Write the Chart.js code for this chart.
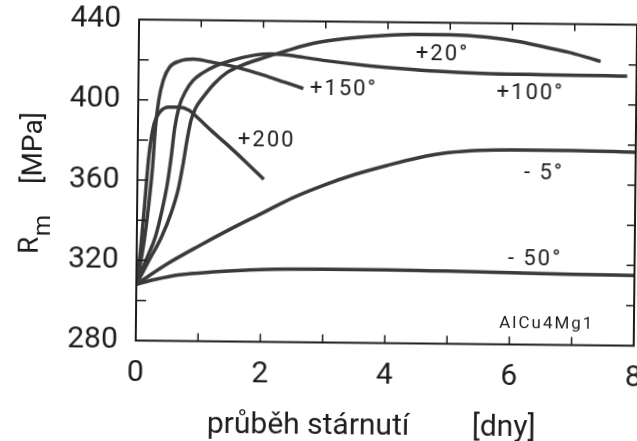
<!DOCTYPE html>
<html>
<head>
<meta charset="utf-8">
<script src="https://cdn.jsdelivr.net/npm/chart.js@4"></script>
<style>
  html, body { margin: 0; padding: 0; background: #fff; overflow: hidden; }
  #wrap { width: 637px; height: 441px; overflow: hidden; }
  /* the printed figure sits slightly skewed on the page */
  #agingChart { transform: rotate(0.6deg); transform-origin: 50% 50%; }
</style>
</head>
<body>
<div id="wrap"><canvas id="agingChart" width="650" height="441"></canvas></div>
<script>
// AlCu4Mg1 - tensile strength Rm vs. ageing time at different temperatures
const t20 = [0, 0.2, 0.4, 0.55, 0.66, 0.73, 0.79, 0.85, 0.92, 1.05, 1.22, 1.42, 1.68, 2.0, 2.4, 2.8, 3.3, 3.8, 4.4, 5.0, 5.6, 6.1, 6.5, 6.9, 7.2, 7.42];
const rm20 = [308, 320, 332, 344, 356, 368, 380, 390, 396, 402, 408.5, 414, 418, 421.5, 425.5, 429, 431.5, 433, 434, 434, 433, 431, 428.5, 426, 423.5, 421.5];

const t100 = [0, 0.15, 0.3, 0.4, 0.48, 0.54, 0.59, 0.66, 0.76, 0.88, 1.02, 1.22, 1.48, 1.8, 2.1, 2.4, 2.65, 3.0, 3.6, 4.2, 4.8, 5.5, 6.5, 7.5, 7.85];
const rm100 = [308, 320, 332, 345, 358, 372, 386, 397, 404.5, 410, 413.5, 417, 420, 422.5, 423.5, 423, 422, 420.5, 418.5, 417, 415.8, 415, 414.6, 414.4, 414.3];

const t150 = [0, 0.06, 0.12, 0.18, 0.24, 0.28, 0.33, 0.4, 0.5, 0.66, 0.88, 1.2, 1.6, 2.0, 2.35, 2.65];
const rm150 = [308, 318, 330, 346, 366, 386, 400, 410, 416.5, 419.5, 420.5, 419, 416.5, 413, 409.5, 406.5];

const t200 = [0, 0.04, 0.08, 0.13, 0.18, 0.25, 0.35, 0.5, 0.66, 0.82, 0.97, 1.18, 1.44, 1.74, 2.03];
const rm200 = [308, 318, 332, 352, 372, 387, 394, 396.5, 396.5, 395, 391, 385, 378, 369.5, 361];

const tm5 = [0, 0.5, 1, 1.5, 2, 2.5, 3, 3.5, 4, 4.5, 5, 5.5, 6, 7, 8];
const rmm5 = [308, 318.5, 327.5, 336, 344, 352, 358.5, 364, 368.5, 372.5, 375.3, 376.6, 377, 377, 376.5];

const tm50 = [0, 0.3, 0.7, 1.2, 2, 3, 4, 5, 6, 7, 8];
const rmm50 = [308, 310.5, 313, 314.5, 316, 316.5, 316.5, 316.2, 315.8, 315.3, 315];

const seriesNames = ['+20°', '+100°', '+150°', '+200', '- 5°', '- 50°'];
const seriesT = [t20, t100, t150, t200, tm5, tm50];
const seriesRm = [rm20, rm100, rm150, rm200, rmm5, rmm50];

// where each curve's name is written (days, MPa)
const nameAtT = [4.88, 6.3, 3.3, 2.07, 6.53, 6.4];
const nameAtRm = [424, 405, 406, 380, 365, 322.5];

const ink = '#1c1c1c';
const font = 'Roboto';

const toPoints = (xs, ys) => xs.map((x, i) => ({x, y: ys[i]}));

const paperPlugin = {
    id: 'paper',
    afterDraw(chart) {
        const {ctx, chartArea: a, scales: {x, y}} = chart;
        ctx.save();
        ctx.strokeStyle = ink;
        ctx.lineWidth = 2;
        ctx.strokeRect(a.left, a.top, a.right - a.left, a.bottom - a.top);

        // short inward tick marks on all four sides
        ctx.beginPath();
        x.ticks.forEach(t => {
            if (t.value <= x.min || t.value >= x.max) return;
            const px = x.getPixelForValue(t.value);
            ctx.moveTo(px, a.bottom); ctx.lineTo(px, a.bottom - 8);
            ctx.moveTo(px, a.top); ctx.lineTo(px, a.top + 7);
        });
        y.ticks.forEach(t => {
            if (t.value <= y.min || t.value >= y.max) return;
            const py = y.getPixelForValue(t.value);
            ctx.moveTo(a.left, py); ctx.lineTo(a.left + 10, py);
            ctx.moveTo(a.right, py); ctx.lineTo(a.right - 8, py);
        });
        ctx.lineWidth = 1.5;
        ctx.stroke();

        // curve names
        ctx.fillStyle = ink;
        ctx.textAlign = 'center';
        ctx.textBaseline = 'middle';
        ctx.font = `22px ${font}`;
        ctx.letterSpacing = '2px';
        seriesNames.forEach((name, i) => {
            ctx.fillText(name, x.getPixelForValue(nameAtT[i]), y.getPixelForValue(nameAtRm[i]));
        });
        ctx.font = `17px ${font}`;
        ctx.fillText('AlCu4Mg1', x.getPixelForValue(6.6), y.getPixelForValue(290.5));

        // x axis title
        ctx.font = `30px ${font}`;
        ctx.letterSpacing = '0px';
        ctx.textAlign = 'left';
        ctx.textBaseline = 'alphabetic';
        ctx.fillText('průběh stárnutí', a.left + 72, chart.height - 7);
        ctx.fillText('[dny]', a.left + 337, chart.height - 7);

        // y axis title, rotated, R with subscript m
        ctx.translate(30, (a.top + a.bottom) / 2);
        ctx.rotate(-Math.PI / 2);
        ctx.font = `28px ${font}`;
        ctx.fillText('R', -75, 8);
        ctx.font = `24px ${font}`;
        ctx.fillText('m', -57, 20);
        ctx.font = `28px ${font}`;
        ctx.fillText('[MPa]', -5, 11);
        ctx.restore();
    }
};

const noPad = s => { s.paddingLeft = 0; s.paddingRight = 0; s.paddingTop = 0; s.paddingBottom = 0; };

new Chart(document.getElementById('agingChart'), {
    type: 'line',
    data: {
        datasets: seriesNames.map((name, i) => ({
            label: name,
            data: toPoints(seriesT[i], seriesRm[i]),
            borderColor: '#3a3a3a',
            borderWidth: 3.5,
            pointRadius: 0,
            cubicInterpolationMode: 'monotone',
            fill: false
        }))
    },
    options: {
        responsive: false,
        animation: false,
        devicePixelRatio: 1,
        layout: {padding: {top: 21.5, right: 15, bottom: 0, left: 0}},
        plugins: {legend: {display: false}, tooltip: {enabled: false}},
        scales: {
            x: {
                type: 'linear',
                min: 0,
                max: 8,
                grid: {display: false, drawTicks: false},
                border: {display: false},
                ticks: {
                    stepSize: 1,
                    autoSkip: false,
                    maxRotation: 0,
                    padding: 15,
                    color: ink,
                    font: {family: font, size: 30},
                    callback: v => (v % 2 === 0 ? v : '')
                },
                afterFit: s => { s.height = 98.5; noPad(s); }
            },
            y: {
                min: 280,
                max: 440,
                grid: {display: false, drawTicks: false},
                border: {display: false},
                ticks: {
                    stepSize: 20,
                    padding: 18,
                    color: ink,
                    font: {family: font, size: 30},
                    callback: v => (v % 40 === 0 ? v : '')
                },
                afterFit: s => { s.width = 137; noPad(s); }
            }
        }
    },
    plugins: [paperPlugin]
});
</script>
</body>
</html>
